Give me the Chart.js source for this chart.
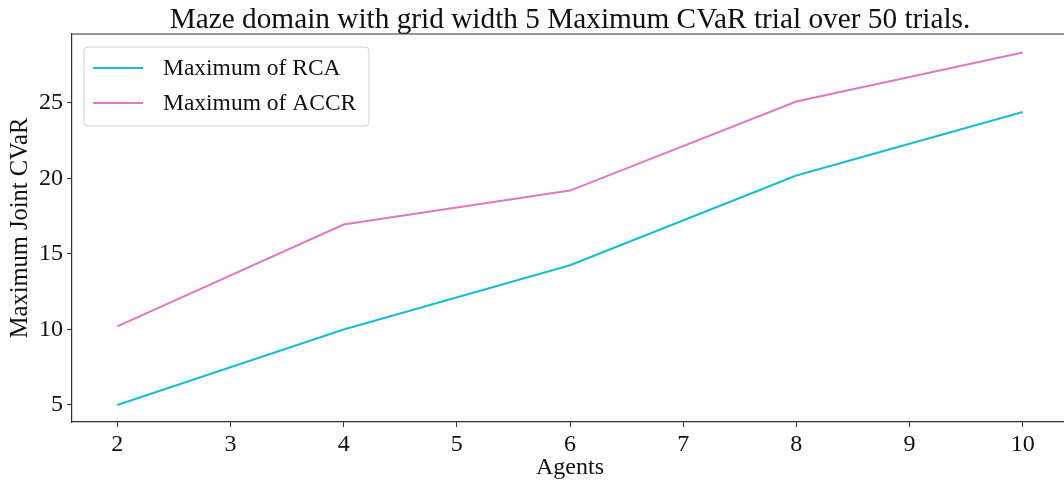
<!DOCTYPE html>
<html>
<head>
<meta charset="utf-8">
<script src="https://cdn.jsdelivr.net/npm/chart.js@4"></script>
<style>
  html, body { margin: 0; padding: 0; background: #fff; overflow: hidden; }
  #wrap { width: 1068px; height: 485px; }
</style>
</head>
<body>
<div id="wrap"><canvas id="myChart"></canvas></div>
<script>
// data
var agents = [2, 4, 6, 8, 10];
var rcaMax = [5.0, 10.0, 14.25, 20.2, 24.4];
var accrMax = [10.2, 16.95, 19.2, 25.1, 28.35];
var xTicks = [2, 3, 4, 5, 6, 7, 8, 9, 10];
var yTicks = [5, 10, 15, 20, 25];
var chartTitle = 'Maze domain with grid width 5 Maximum CVaR trial over 50 trials.';

var serif = "'Liberation Serif', 'DejaVu Serif', serif";

function toPoints(xs, ys) {
    return xs.map(function (x, i) { return { x: x, y: ys[i] }; });
}

// title over the plot, top spine + legend drawn inside the plot, matplotlib style
var framePlugin = {
    id: 'frame',
    afterDraw: function (chart) {
        var ctx = chart.ctx;
        var a = chart.chartArea;
        ctx.save();

        ctx.font = '29.3px ' + serif;
        ctx.fillStyle = '#111';
        ctx.textAlign = 'center';
        ctx.textBaseline = 'alphabetic';
        ctx.fillText(chartTitle, (a.left + a.right) / 2, a.top - 6);
        ctx.textAlign = 'left';

        ctx.strokeStyle = '#333';
        ctx.lineWidth = 1.2;
        ctx.beginPath();
        ctx.moveTo(a.left, a.top);
        ctx.lineTo(a.right, a.top);
        ctx.stroke();

        // legend box
        var bx = a.left + 12, by = a.top + 13, bw = 285, bh = 79;
        ctx.beginPath();
        ctx.roundRect(bx, by, bw, bh, 4);
        ctx.fillStyle = 'rgba(255,255,255,0.8)';
        ctx.fill();
        ctx.strokeStyle = '#d0d0d0';
        ctx.lineWidth = 1;
        ctx.stroke();

        ctx.font = '23.5px ' + serif;
        ctx.textBaseline = 'middle';
        chart.data.datasets.forEach(function (ds, i) {
            var y = by + 21 + i * 35;
            ctx.strokeStyle = ds.borderColor;
            ctx.lineWidth = 2;
            ctx.beginPath();
            ctx.moveTo(bx + 9, y);
            ctx.lineTo(bx + 59, y);
            ctx.stroke();
            ctx.fillStyle = '#111';
            ctx.fillText(ds.label, bx + 79, y + 1);
        });
        ctx.restore();
    }
};

window.onload = function () {
    var myChart = new Chart(document.getElementById('myChart'), {
        type: 'line',
        data: {
            datasets: [{
                label: 'Maximum of RCA',
                data: toPoints(agents, rcaMax),
                borderColor: '#17becf',
                borderWidth: 2,
                pointRadius: 0,
                tension: 0
            }, {
                label: 'Maximum of ACCR',
                data: toPoints(agents, accrMax),
                borderColor: '#e377c2',
                borderWidth: 2,
                pointRadius: 0,
                tension: 0
            }]
        },
        options: {
            responsive: true,
            maintainAspectRatio: false,
            animation: false,
            layout: { padding: { left: 0, right: 0, top: 34, bottom: 0 } },
            plugins: {
                legend: { display: false },
                tooltip: { enabled: false },
                title: { display: false }
            },
            scales: {
                x: {
                    type: 'linear',
                    min: 1.6,
                    max: 10.4,
                    afterBuildTicks: function (scale) {
                        scale.ticks = xTicks.map(function (v) { return { value: v }; });
                    },
                    afterFit: function (scale) { scale.height = 63; },
                    grid: { drawOnChartArea: false, tickLength: 5, tickColor: '#333' },
                    border: { color: '#333', width: 1.2 },
                    ticks: {
                        color: '#111',
                        padding: 3,
                        maxRotation: 0,
                        font: { family: serif, size: 24 }
                    },
                    title: {
                        display: true,
                        text: 'Agents',
                        color: '#111',
                        font: { family: serif, size: 24 },
                        padding: { top: 0, bottom: 3 }
                    }
                },
                y: {
                    type: 'linear',
                    min: 3.87,
                    max: 29.57,
                    afterBuildTicks: function (scale) {
                        scale.ticks = yTicks.map(function (v) { return { value: v }; });
                    },
                    afterFit: function (scale) { scale.width = 72; },
                    grid: { drawOnChartArea: false, tickLength: 5, tickColor: '#333' },
                    border: { color: '#333', width: 1.2 },
                    ticks: {
                        color: '#111',
                        padding: 4,
                        font: { family: serif, size: 24 }
                    },
                    title: {
                        display: true,
                        text: 'Maximum Joint CVaR',
                        color: '#111',
                        font: { family: serif, size: 24.5 },
                        padding: { top: 6, bottom: 0 }
                    }
                }
            }
        },
        plugins: [framePlugin]
    });
};
</script>
</body>
</html>
